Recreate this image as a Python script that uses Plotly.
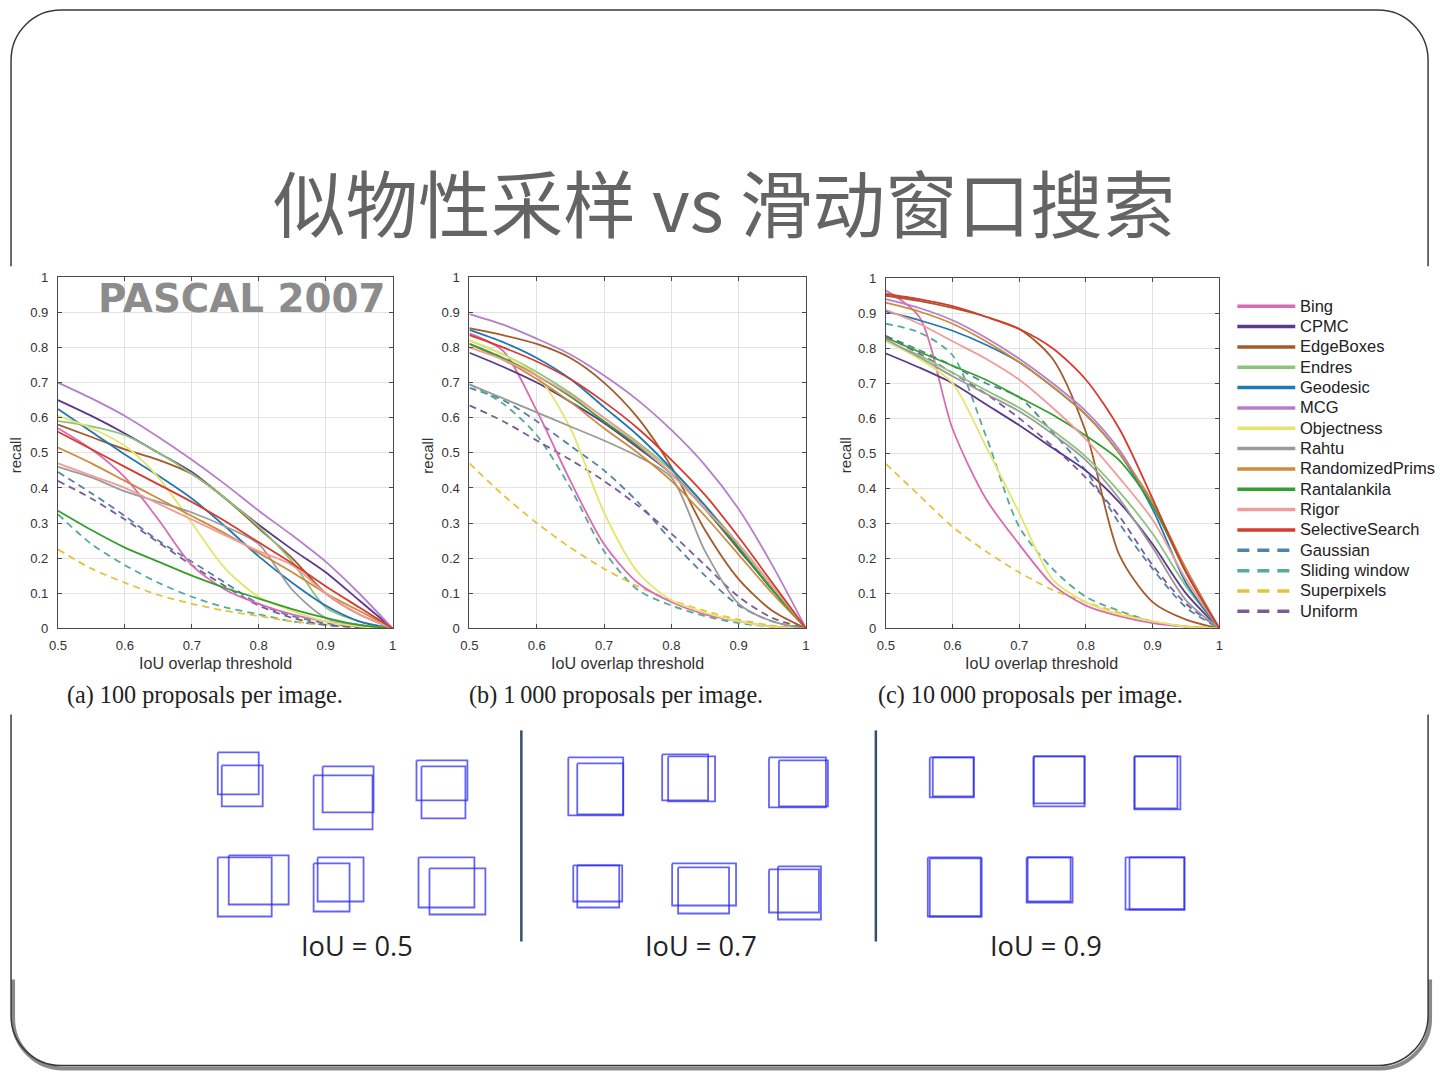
import plotly.graph_objects as go

# The photographed page shows the figure with an 8px body margin and a slight downscale;
# slide positions below are mapped through that (empirically measured) transform.
W, H = 1440, 1080            # figure size
OFF = 8
KX, KY = 1.0077, 1.0145
FS = KX                      # font scale

# ---------------- data ----------------
iou = [0.5, 0.55, 0.6, 0.65, 0.7, 0.75, 0.8, 0.85, 0.9, 0.95, 1.0]
x_tick_vals = [0.5, 0.6, 0.7, 0.8, 0.9, 1.0]
x_tick_text = ["0.5", "0.6", "0.7", "0.8", "0.9", "1"]
y_tick_vals = [0, 0.1, 0.2, 0.3, 0.4, 0.5, 0.6, 0.7, 0.8, 0.9, 1.0]
y_tick_text = ["0", "0.1", "0.2", "0.3", "0.4", "0.5", "0.6", "0.7", "0.8", "0.9", "1"]

methods = ["Bing", "CPMC", "EdgeBoxes", "Endres", "Geodesic", "MCG", "Objectness", "Rahtu",
           "RandomizedPrims", "Rantalankila", "Rigor", "SelectiveSearch",
           "Gaussian", "Sliding window", "Superpixels", "Uniform"]
colors = ["#d96bb5", "#5b3a8e", "#a45a2a", "#8cc47c", "#2277b4", "#b57fc9", "#e5e56b", "#9a9a9a",
          "#cf8a3b", "#33a02c", "#f29b9b", "#d63b2e",
          "#5182a8", "#55aa99", "#e3c33f", "#7d5b96"]
dashed = [False] * 12 + [True] * 4

# (a) 100 proposals per image
bing_100 = [0.57, 0.51, 0.43, 0.31, 0.18, 0.11, 0.07, 0.04, 0.02, 0.006, 0]
cpmc_100 = [0.65, 0.605, 0.555, 0.50, 0.445, 0.37, 0.295, 0.225, 0.16, 0.08, 0]
edgeboxes_100 = [0.58, 0.545, 0.51, 0.48, 0.44, 0.37, 0.285, 0.20, 0.10, 0.04, 0]
endres_100 = [0.59, 0.575, 0.55, 0.50, 0.44, 0.37, 0.29, 0.19, 0.06, 0.02, 0]
geodesic_100 = [0.625, 0.56, 0.495, 0.435, 0.37, 0.29, 0.205, 0.13, 0.065, 0.02, 0]
mcg_100 = [0.70, 0.655, 0.605, 0.545, 0.48, 0.41, 0.335, 0.265, 0.19, 0.10, 0]
objectness_100 = [0.605, 0.57, 0.52, 0.43, 0.30, 0.17, 0.09, 0.05, 0.02, 0.006, 0]
rahtu_100 = [0.46, 0.43, 0.39, 0.36, 0.33, 0.29, 0.24, 0.11, 0.03, 0.01, 0]
randprims_100 = [0.515, 0.47, 0.42, 0.37, 0.32, 0.27, 0.215, 0.16, 0.10, 0.05, 0]
rantalankila_100 = [0.335, 0.28, 0.23, 0.19, 0.15, 0.115, 0.085, 0.055, 0.03, 0.01, 0]
rigor_100 = [0.47, 0.435, 0.40, 0.355, 0.31, 0.265, 0.22, 0.18, 0.10, 0.04, 0]
selsearch_100 = [0.56, 0.51, 0.46, 0.41, 0.36, 0.305, 0.245, 0.185, 0.12, 0.06, 0]
gaussian_100 = [0.445, 0.385, 0.32, 0.25, 0.19, 0.13, 0.07, 0.035, 0.015, 0.005, 0]
sliding_100 = [0.325, 0.24, 0.18, 0.13, 0.09, 0.06, 0.04, 0.02, 0.01, 0.003, 0]
superpixels_100 = [0.225, 0.17, 0.13, 0.095, 0.07, 0.05, 0.035, 0.02, 0.01, 0.003, 0]
uniform_100 = [0.42, 0.37, 0.31, 0.245, 0.18, 0.12, 0.065, 0.03, 0.01, 0.003, 0]

# (b) 1000 proposals per image
bing_1000 = [0.84, 0.79, 0.62, 0.42, 0.24, 0.13, 0.075, 0.04, 0.02, 0.005, 0]
cpmc_1000 = [0.785, 0.745, 0.70, 0.645, 0.585, 0.515, 0.44, 0.34, 0.225, 0.11, 0]
edgeboxes_1000 = [0.855, 0.835, 0.81, 0.77, 0.70, 0.60, 0.46, 0.28, 0.14, 0.05, 0]
endres_1000 = [0.82, 0.78, 0.73, 0.67, 0.60, 0.53, 0.45, 0.35, 0.24, 0.12, 0]
geodesic_1000 = [0.85, 0.815, 0.77, 0.71, 0.63, 0.55, 0.455, 0.35, 0.23, 0.11, 0]
mcg_1000 = [0.895, 0.865, 0.825, 0.78, 0.72, 0.65, 0.565, 0.465, 0.34, 0.18, 0]
objectness_1000 = [0.82, 0.78, 0.72, 0.57, 0.33, 0.16, 0.08, 0.045, 0.02, 0.005, 0]
rahtu_1000 = [0.695, 0.655, 0.615, 0.575, 0.535, 0.49, 0.43, 0.22, 0.07, 0.02, 0]
randprims_1000 = [0.81, 0.765, 0.71, 0.645, 0.57, 0.50, 0.42, 0.32, 0.21, 0.10, 0]
rantalankila_1000 = [0.81, 0.77, 0.72, 0.66, 0.59, 0.52, 0.44, 0.34, 0.23, 0.11, 0]
rigor_1000 = [0.80, 0.765, 0.72, 0.665, 0.60, 0.525, 0.44, 0.34, 0.24, 0.12, 0]
selsearch_1000 = [0.835, 0.80, 0.76, 0.71, 0.645, 0.57, 0.48, 0.38, 0.26, 0.13, 0]
gaussian_1000 = [0.685, 0.65, 0.59, 0.52, 0.45, 0.36, 0.25, 0.15, 0.065, 0.02, 0]
sliding_1000 = [0.695, 0.64, 0.55, 0.40, 0.22, 0.11, 0.065, 0.035, 0.015, 0.005, 0]
superpixels_1000 = [0.47, 0.38, 0.30, 0.23, 0.17, 0.12, 0.08, 0.05, 0.025, 0.008, 0]
uniform_1000 = [0.635, 0.59, 0.535, 0.48, 0.42, 0.35, 0.27, 0.18, 0.09, 0.03, 0]

# (c) 10000 proposals per image
bing_10000 = [0.965, 0.89, 0.57, 0.37, 0.24, 0.125, 0.065, 0.035, 0.015, 0.005, 0]
cpmc_10000 = [0.785, 0.745, 0.70, 0.64, 0.58, 0.515, 0.45, 0.36, 0.24, 0.10, 0]
edgeboxes_10000 = [0.95, 0.935, 0.915, 0.89, 0.855, 0.77, 0.56, 0.21, 0.075, 0.025, 0]
endres_10000 = [0.82, 0.78, 0.73, 0.68, 0.63, 0.565, 0.49, 0.39, 0.27, 0.12, 0]
geodesic_10000 = [0.905, 0.88, 0.85, 0.81, 0.76, 0.69, 0.61, 0.50, 0.34, 0.13, 0]
mcg_10000 = [0.94, 0.915, 0.88, 0.83, 0.77, 0.70, 0.62, 0.51, 0.35, 0.17, 0]
objectness_10000 = [0.82, 0.77, 0.70, 0.52, 0.33, 0.14, 0.075, 0.04, 0.02, 0.005, 0]
rahtu_10000 = [0.825, 0.775, 0.72, 0.67, 0.62, 0.555, 0.48, 0.37, 0.23, 0.08, 0]
randprims_10000 = [0.93, 0.905, 0.87, 0.82, 0.76, 0.69, 0.61, 0.50, 0.36, 0.17, 0]
rantalankila_10000 = [0.83, 0.79, 0.75, 0.71, 0.66, 0.61, 0.55, 0.48, 0.35, 0.16, 0]
rigor_10000 = [0.91, 0.87, 0.82, 0.77, 0.71, 0.63, 0.54, 0.43, 0.31, 0.14, 0]
selsearch_10000 = [0.955, 0.94, 0.92, 0.89, 0.855, 0.80, 0.71, 0.57, 0.37, 0.16, 0]
gaussian_10000 = [0.835, 0.795, 0.75, 0.70, 0.66, 0.56, 0.45, 0.30, 0.17, 0.06, 0]
sliding_10000 = [0.87, 0.845, 0.78, 0.55, 0.29, 0.17, 0.09, 0.05, 0.02, 0.005, 0]
superpixels_10000 = [0.47, 0.38, 0.29, 0.22, 0.16, 0.11, 0.075, 0.045, 0.02, 0.006, 0]
uniform_10000 = [0.835, 0.785, 0.73, 0.67, 0.60, 0.52, 0.43, 0.32, 0.18, 0.07, 0]

panel_captions = ["(a) 100 proposals per image.", "(b) 1\u2009000 proposals per image.",
                  "(c) 10\u2009000 proposals per image."]

# illustration boxes (x0, y0, x1, y1) in slide pixels, pairs of overlapping boxes
boxes_iou05 = [(217, 753, 258, 795), (221, 766, 262, 807),
               (322, 767, 373, 813), (313, 776, 372, 830),
               (416, 761, 467, 801), (421, 767, 465, 819),
               (217, 858, 271, 917), (228, 856, 288, 905),
               (317, 858, 363, 902), (313, 864, 349, 912),
               (418, 858, 474, 908), (429, 869, 485, 915)]
boxes_iou07 = [(568, 758, 623, 816), (577, 764, 623, 815),
               (662, 755, 708, 801), (668, 757, 715, 802),
               (769, 758, 826, 808), (779, 761, 828, 807),
               (573, 866, 622, 902), (577, 866, 619, 908),
               (672, 864, 736, 906), (678, 868, 729, 914),
               (769, 870, 819, 913), (778, 867, 821, 920)]
boxes_iou09 = [(930, 758, 974, 798), (933, 758, 974, 797),
               (1034, 757, 1085, 804), (1034, 757, 1085, 807),
               (1135, 757, 1178, 809), (1135, 757, 1181, 810),
               (928, 858, 981, 917), (930, 859, 982, 917),
               (1027, 858, 1073, 903), (1028, 858, 1071, 902),
               (1126, 858, 1185, 910), (1130, 858, 1185, 910)]
iou_labels = ["IoU = 0.5", "IoU = 0.7", "IoU = 0.9"]

# ---------------- assemble ----------------
panels = [
    [bing_100, cpmc_100, edgeboxes_100, endres_100, geodesic_100, mcg_100, objectness_100, rahtu_100,
     randprims_100, rantalankila_100, rigor_100, selsearch_100, gaussian_100, sliding_100,
     superpixels_100, uniform_100],
    [bing_1000, cpmc_1000, edgeboxes_1000, endres_1000, geodesic_1000, mcg_1000, objectness_1000,
     rahtu_1000, randprims_1000, rantalankila_1000, rigor_1000, selsearch_1000, gaussian_1000,
     sliding_1000, superpixels_1000, uniform_1000],
    [bing_10000, cpmc_10000, edgeboxes_10000, endres_10000, geodesic_10000, mcg_10000,
     objectness_10000, rahtu_10000, randprims_10000, rantalankila_10000, rigor_10000,
     selsearch_10000, gaussian_10000, sliding_10000, superpixels_10000, uniform_10000],
]


def px(x):
    """slide pixel x -> paper fraction"""
    return (x * KX - OFF) / W


def py(y):
    """slide pixel y (from top) -> paper fraction"""
    return 1 - (y * KY - OFF) / H


def fs(s):
    return round(s * FS, 2)


fig = go.Figure()

axis_ids = ["", "2", "3"]
# plot-area pixel extents on the slide: (left, right, top, bottom)
extents = [(57, 392, 278, 629), (469, 806, 278, 629), (886, 1220, 279, 629)]

# draw order: dashed first, then solid
order = list(range(12, 16)) + list(range(12))
for p, aid in enumerate(axis_ids):
    for i in order:
        fig.add_trace(go.Scatter(
            x=iou, y=panels[p][i], mode="lines", name=methods[i], showlegend=False,
            line=dict(color=colors[i], width=1.8, shape="spline", smoothing=0.8,
                      dash="7px,5px" if dashed[i] else "solid"),
            xaxis="x" + aid, yaxis="y" + aid, hoverinfo="skip"))

# overlay pixel axis (slide pixel coordinates) for legend & illustrations
OV = dict(xaxis="x4", yaxis="y4", hoverinfo="skip", showlegend=False)

# legend (manual)
for i, m in enumerate(methods):
    yrow = 307 + i * 20.33
    fig.add_trace(go.Scatter(
        x=[1238, 1296], y=[yrow, yrow], mode="lines",
        line=dict(color=colors[i], width=3.5, dash="12px,8px" if dashed[i] else "solid"), **OV))

# boxes
for group in (boxes_iou05, boxes_iou07, boxes_iou09):
    xs, ys = [], []
    for (x0, y0, x1, y1) in group:
        xs += [x0, x1, x1, x0, x0, None]
        ys += [y0, y0, y1, y1, y0, None]
    fig.add_trace(go.Scatter(x=xs, y=ys, mode="lines",
                             line=dict(color="rgba(40,40,235,0.72)", width=1.8), **OV))

tickfont = dict(family="Liberation Sans, Arial, sans-serif", size=fs(13), color="#333333")
layout = dict(
    width=W, height=H, margin=dict(l=0, r=0, t=0, b=0),
    paper_bgcolor="white", plot_bgcolor="rgba(0,0,0,0)",
    showlegend=False,
)
for p, aid in enumerate(axis_ids):
    l, r, t, b = extents[p]
    xa = dict(domain=[px(l), px(r)], range=[0.5, 1.0], anchor="y" + aid,
              tickvals=x_tick_vals, ticktext=x_tick_text, tickfont=tickfont,
              ticklabelstandoff=5,
              showgrid=True, gridcolor="#e3e3e3", gridwidth=1, zeroline=False,
              showline=True, linecolor="#4a4a4a", linewidth=1, mirror="ticks",
              ticks="inside", ticklen=4, tickcolor="#4a4a4a", fixedrange=True)
    ya = dict(domain=[py(b), py(t)], range=[0, 1.0], anchor="x" + aid,
              tickvals=y_tick_vals, ticktext=y_tick_text, tickfont=tickfont,
              ticklabelstandoff=6,
              showgrid=True, gridcolor="#e3e3e3", gridwidth=1, zeroline=False,
              showline=True, linecolor="#4a4a4a", linewidth=1, mirror="ticks",
              ticks="inside", ticklen=4, tickcolor="#4a4a4a", fixedrange=True)
    layout["xaxis" + aid] = xa
    layout["yaxis" + aid] = ya
layout["xaxis4"] = dict(domain=[0, 1], range=[OFF / KX, (W + OFF) / KX], visible=False,
                        anchor="y4", fixedrange=True)
layout["yaxis4"] = dict(domain=[0, 1], range=[(H + OFF) / KY, OFF / KY], visible=False,
                        anchor="x4", fixedrange=True)
fig.update_layout(**layout)

# ---------------- annotations ----------------
ann = []
ann.append(dict(text="似物性采样 vs 滑动窗口搜索", x=px(724), y=py(201), xref="paper", yref="paper",
                showarrow=False, xanchor="center", yanchor="middle",
                font=dict(family="Noto Sans CJK SC", size=fs(72), color="#646464")))
ann.append(dict(text="<b>PASCAL 2007</b>", x=px(387), y=py(299), xref="paper", yref="paper",
                showarrow=False, xanchor="right", yanchor="middle",
                font=dict(family="DejaVu Sans", size=fs(38.5), color="#8c8c8c")))
xtitle_cx = [215, 627, 1042]
ytitle_cx = [14, 427, 845]
cap_cx = [204, 616, 1031]
for p in range(3):
    ann.append(dict(text="IoU overlap threshold", x=px(xtitle_cx[p]), y=py(664), xref="paper",
                    yref="paper", showarrow=False, xanchor="center", yanchor="middle",
                    font=dict(family="Liberation Sans, Arial", size=fs(16), color="#333333")))
    ann.append(dict(text="recall", x=px(ytitle_cx[p]), y=py(456), xref="paper", yref="paper",
                    showarrow=False, xanchor="center", yanchor="middle", textangle=-90,
                    font=dict(family="Liberation Sans, Arial", size=fs(15), color="#333333")))
    ann.append(dict(text=panel_captions[p], x=px(cap_cx[p]), y=py(696), xref="paper", yref="paper",
                    showarrow=False, xanchor="center", yanchor="middle",
                    font=dict(family="Liberation Serif, Times New Roman, serif", size=fs(24),
                              color="#222222")))
for i, m in enumerate(methods):
    yrow = 307 + i * 20.33
    ann.append(dict(text=m, x=px(1299), y=py(yrow), xref="paper", yref="paper", showarrow=False,
                    xanchor="left", yanchor="middle",
                    font=dict(family="Liberation Sans, Arial", size=fs(16.4), color="#222222")))
label_cx = [356, 701, 1046]
for k, lab in enumerate(iou_labels):
    ann.append(dict(text=lab, x=px(label_cx[k]), y=py(946), xref="paper", yref="paper",
                    showarrow=False, xanchor="center", yanchor="middle",
                    font=dict(family="Open Sans", size=fs(27), color="#222222")))
fig.update_layout(annotations=ann)


# ---------------- decoration: slide frame and dividers ----------------
def P(x, y):
    return f"{px(x):.6f},{py(y):.6f}"


k = 0.5523
r = 50
x0, x1, y0, y1 = 10, 1429, 11, 1066
top_path = (f"M{P(x0, 267)} L{P(x0, y0 + r)} "
            f"C{P(x0, y0 + r - k * r)} {P(x0 + r - k * r, y0)} {P(x0 + r, y0)} "
            f"L{P(x1 - r, y0)} "
            f"C{P(x1 - r + k * r, y0)} {P(x1, y0 + r - k * r)} {P(x1, y0 + r)} "
            f"L{P(x1, 267)}")
bot_path = (f"M{P(x1, 715)} L{P(x1, y1 - r)} "
            f"C{P(x1, y1 - r + k * r)} {P(x1 - r + k * r, y1)} {P(x1 - r, y1)} "
            f"L{P(x0 + r, y1)} "
            f"C{P(x0 + r - k * r, y1)} {P(x0, y1 - r + k * r)} {P(x0, y1 - r)} "
            f"L{P(x0, 715)}")
sx, sy = 2, 3
shadow_path = (f"M{P(x1 + sx, 980)} L{P(x1 + sx, y1 - r + sy)} "
               f"C{P(x1 + sx, y1 - r + k * r + sy)} {P(x1 - r + k * r + sx, y1 + sy)} {P(x1 - r + sx, y1 + sy)} "
               f"L{P(x0 + r + sx, y1 + sy)} "
               f"C{P(x0 + r - k * r + sx, y1 + sy)} {P(x0 + sx, y1 - r + k * r + sy)} {P(x0 + sx, y1 - r + sy)} "
               f"L{P(x0 + sx, 980)}")
shapes = [
    dict(type="path", path=shadow_path, xref="paper", yref="paper", layer="below",
         line=dict(color="#8a8a8a", width=4)),
    dict(type="path", path=top_path, xref="paper", yref="paper", layer="below",
         line=dict(color="#3a3a3a", width=1.5)),
    dict(type="path", path=bot_path, xref="paper", yref="paper", layer="below",
         line=dict(color="#3a3a3a", width=1.5)),
    dict(type="line", x0=px(521), x1=px(521), y0=py(731), y1=py(942), xref="paper", yref="paper",
         line=dict(color="#34506b", width=2.5)),
    dict(type="line", x0=px(876), x1=px(876), y0=py(731), y1=py(942), xref="paper", yref="paper",
         line=dict(color="#34506b", width=2.5)),
]
fig.update_layout(shapes=shapes)

fig.write_html("out.html")
